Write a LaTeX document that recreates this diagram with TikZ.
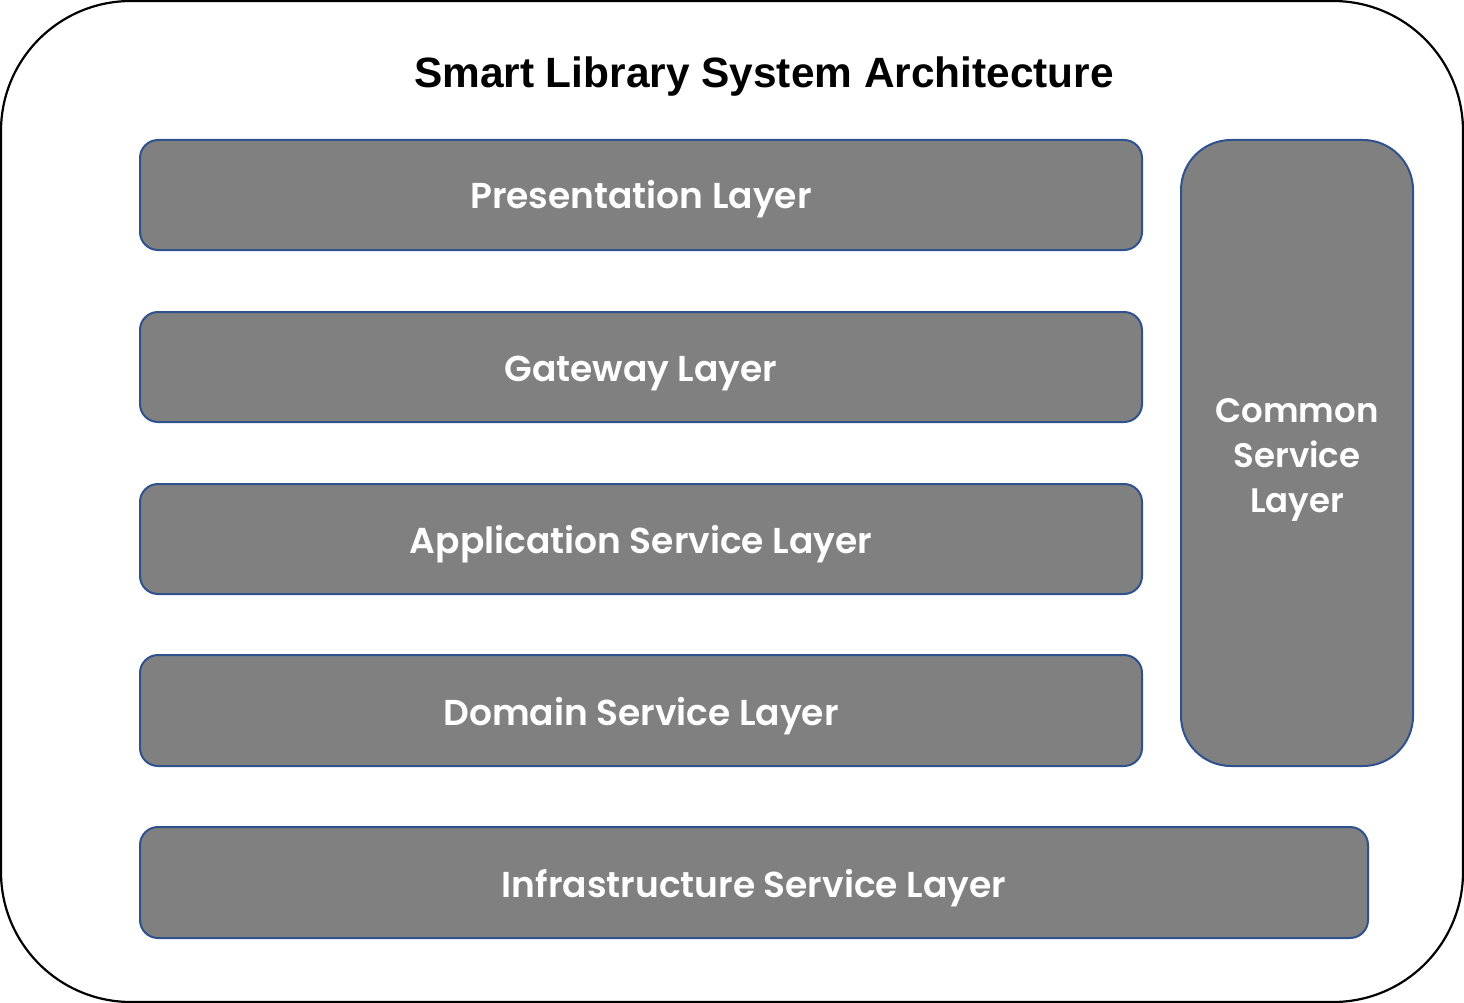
\documentclass[tikz,border=0pt]{standalone}
\usepackage{fontspec}
\newfontfamily\popfont{Poppins}[UprightFont=* SemiBold]
\newfontfamily\titlefont{Liberation Sans}[UprightFont=* Bold]
\definecolor{layerfill}{HTML}{808080}
\definecolor{layerline}{HTML}{2F528F}
\begin{document}
\begin{tikzpicture}[x=1pt,y=-1pt,
  layer/.style={draw=layerline, line width=2pt, fill=layerfill, rounded corners=18pt},
  lbl/.style={text=white, font=\popfont\fontsize{36}{45}\selectfont, align=center, inner sep=0pt},
]
\useasboundingbox (0,0) rectangle (1464,1003);
\draw[line width=2.2pt, rounded corners=130pt] (1,1) rectangle (1463,1002);
\node[font=\titlefont\fontsize{42.4}{44}\selectfont, anchor=base] (title) at (764,88) {Smart Library System Architecture};
\draw[layer] (140,140) rectangle (1142,250);
\node[lbl, anchor=base] (pres) at (641,209) {Presentation Layer};
\draw[layer] (140,312) rectangle (1142,422);
\node[lbl, anchor=base] (gw) at (641,381) {Gateway Layer};
\draw[layer] (140,484) rectangle (1142,594);
\node[lbl, anchor=base] (app) at (641,553) {Application Service Layer};
\draw[layer] (140,655) rectangle (1142,766);
\node[lbl, anchor=base] (dom) at (641,725) {Domain Service Layer};
\draw[layer] (140,827) rectangle (1368,938);
\node[lbl, anchor=base] (infra) at (754,897) {Infrastructure Service Layer};
\draw[layer, rounded corners=50pt] (1181,140) rectangle (1413,766);
\node[lbl, font=\popfont\fontsize{34}{45}\selectfont] (common) at (1297,460) {Common\\Service\\Layer};
\end{tikzpicture}
\end{document}
